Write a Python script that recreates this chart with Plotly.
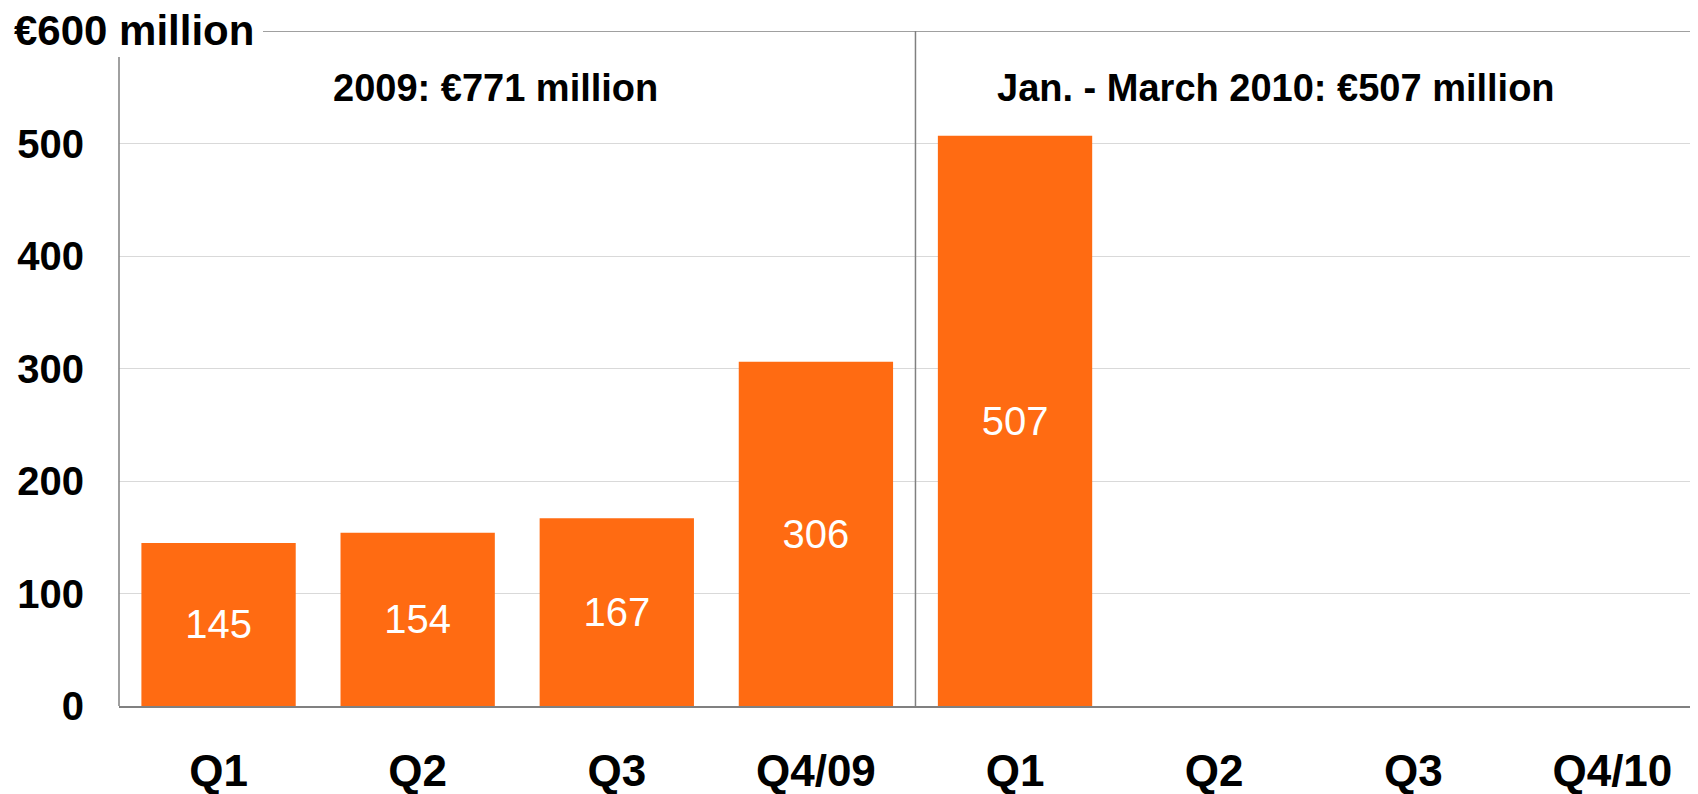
import plotly.graph_objects as go

categories = ["Q1", "Q2", "Q3", "Q4/09", "Q1 ", "Q2 ", "Q3 ", "Q4/10"]
tick_labels = ["Q1", "Q2", "Q3", "Q4/09", "Q1", "Q2", "Q3", "Q4/10"]
values = [145, 154, 167, 306, 507, None, None, None]
bar_text = ["145", "154", "167", "306", "507", "", "", ""]
y_ticks = [0, 100, 200, 300, 400, 500]
y_unit_label = "€600 million"
group_labels = ["2009: €771 million", "Jan. - March 2010: €507 million"]

ORANGE = "#FF6B12"
AXIS_GRAY = "#808080"
GRID_GRAY = "#D9D9D9"
FONT = "Liberation Sans, Arial, sans-serif"

fig = go.Figure()
fig.add_trace(go.Bar(
    x=list(range(len(categories))),
    y=values,
    text=bar_text,
    textposition="inside",
    insidetextanchor="middle",
    textangle=0,
    textfont=dict(family=FONT, size=40, color="white"),
    marker=dict(color=ORANGE, line=dict(width=0)),
    width=0.775,
    hoverinfo="skip",
    cliponaxis=False,
))

fig.update_layout(
    width=1690, height=786,
    margin=dict(l=111, r=0, t=23, b=88, autoexpand=False),
    paper_bgcolor="white", plot_bgcolor="white",
    showlegend=False,
    uniformtext=dict(mode=False),
    font=dict(family=FONT, color="black"),
)

fig.update_xaxes(
    range=[-0.5, 7.43],
    tickmode="array",
    tickvals=list(range(len(categories))),
    ticktext=tick_labels,
    tickfont=dict(family=FONT, size=44, color="black", weight="bold"),
    showgrid=False, zeroline=False,
    showline=True, linecolor=AXIS_GRAY, linewidth=1.5,
    ticks="", ticklabelstandoff=25, automargin=False,
)

fig.update_yaxes(
    range=[0, 600],
    tickmode="array",
    tickvals=y_ticks,
    ticktext=[str(v) for v in y_ticks],
    tickfont=dict(family=FONT, size=40, color="black", weight="bold"),
    showgrid=True, gridcolor=GRID_GRAY, gridwidth=1,
    zeroline=False, showline=False,
    ticks="", ticklabelstandoff=34, automargin=False,
)

# left axis line (interrupted near the top by the unit label)
fig.add_shape(type="line", xref="paper", yref="y", x0=0, x1=0, y0=0, y1=577,
              line=dict(color=AXIS_GRAY, width=1.5))
# top border line at 600
fig.add_shape(type="line", xref="paper", yref="y", x0=0.0912, x1=1, y0=600, y1=600,
              line=dict(color=AXIS_GRAY, width=1.5))
# separator between 2009 and 2010
fig.add_shape(type="line", xref="x", yref="y", x0=3.5, x1=3.5, y0=0, y1=600,
              line=dict(color=AXIS_GRAY, width=1.5))

fig.add_annotation(text=y_unit_label, xref="paper", yref="y", x=-0.067, y=600,
                   xanchor="left", yanchor="middle", showarrow=False, yshift=1,
                   borderpad=0,
                   font=dict(family=FONT, size=42, color="black", weight="bold"))
fig.add_annotation(text=group_labels[0], xref="x", yref="paper", x=1.39, y=0.9156,
                   xanchor="center", yanchor="middle", showarrow=False,
                   font=dict(family=FONT, size=38, color="black", weight="bold"))
fig.add_annotation(text=group_labels[1], xref="x", yref="paper", x=5.31, y=0.9156,
                   xanchor="center", yanchor="middle", showarrow=False,
                   font=dict(family=FONT, size=38, color="black", weight="bold"))

fig.write_html("out.html")
